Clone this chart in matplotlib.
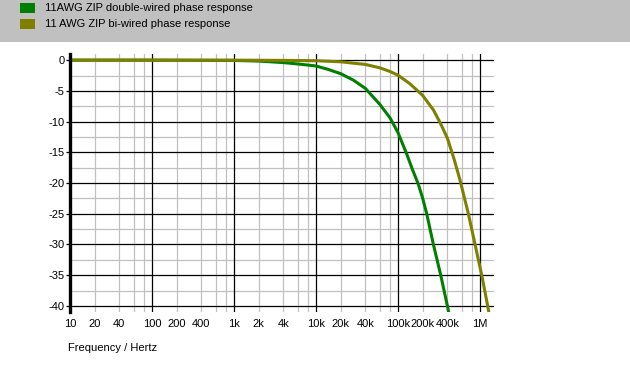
import numpy as np
import matplotlib
matplotlib.use("Agg")
import matplotlib.pyplot as plt
from matplotlib.patches import Rectangle
from matplotlib.ticker import FixedLocator, NullFormatter

plt.rcParams["font.family"] = ["Liberation Sans", "DejaVu Sans"]

# phase response (Hz, degrees)
freq_double = [10, 100, 1000, 2000, 4000, 6300, 10000, 14000, 20000, 28500,
               40000, 60000, 80000, 100000, 127000, 150000, 177000, 200000,
               224000, 270000, 332000, 400000, 415000]
phase_double = [0, 0, -0.05, -0.15, -0.4, -0.65, -0.95, -1.5, -2.2, -3.25,
                -4.6, -7.2, -9.4, -11.8, -15.2, -17.8, -20.2, -22.5,
                -25.0, -30.0, -35.0, -40.0, -41.0]

freq_bi = [10, 1000, 5000, 10000, 20000, 40000, 60000, 80000, 100000, 140000,
           200000, 270000, 330000, 400000, 480000, 570000, 721000, 870000,
           1050000, 1240000, 1280000]
phase_bi = [0, 0, -0.05, -0.1, -0.27, -0.7, -1.25, -1.85, -2.45, -3.85,
            -5.75, -8.1, -10.3, -12.7, -16.0, -19.5, -25.0, -30.0,
            -35.0, -40.0, -41.0]

label_double = "11AWG ZIP double-wired phase response"
label_bi = "11 AWG ZIP bi-wired phase response"
col_double = "#008000"
col_bi = "#808000"

xtick_vals = [10, 20, 40, 100, 200, 400, 1e3, 2e3, 4e3, 1e4, 2e4, 4e4,
              1e5, 2e5, 4e5, 1e6]
xtick_labels = ["10", "20", "40", "100", "200", "400", "1k", "2k", "4k",
                "10k", "20k", "40k", "100k", "200k", "400k", "1M"]
ytick_vals = [0, -5, -10, -15, -20, -25, -30, -35, -40]

W, H = 630, 365
fig = plt.figure(figsize=(W / 100, H / 100), dpi=100)

# grey header with legend
fig.patches.append(Rectangle((0, 1 - 42 / H), 1, 42 / H, transform=fig.transFigure,
                             facecolor="#c0c0c0", edgecolor="none", zorder=0))
for i, (lab, col) in enumerate([(label_double, col_double), (label_bi, col_bi)]):
    yc = 8 + i * 16
    fig.patches.append(Rectangle((20 / W, 1 - (yc + 5) / H), 15 / W, 10 / H,
                                 transform=fig.transFigure, facecolor=col,
                                 edgecolor="none", zorder=1))
    fig.text(45 / W, 1 - yc / H, lab, fontsize=8, va="center", ha="left")

ax = fig.add_axes([70 / W, 1 - 312 / H, 424 / W, 258 / H])
ax.set_xscale("log")
ax.set_xlim(10, 10 ** (6 + 14 / 82))
ax.set_ylim(-41, 1)

minor_x = [m * 10 ** d for d in range(1, 7) for m in (2, 4, 6, 8)]
for x in minor_x:
    ax.axvline(x, color="#c0c0c0", lw=0.9, zorder=1)
for d in range(1, 7):
    ax.axvline(10 ** d, color="black", lw=0.9, zorder=2)
for y in np.arange(-37.5, 0, 5):
    ax.axhline(y, color="#c0c0c0", lw=0.9, zorder=1)
for y in ytick_vals:
    ax.axhline(y, color="black", lw=0.9, zorder=2)

ax.plot(freq_double, phase_double, color=col_double, lw=2.2, zorder=4)
ax.plot(freq_bi, phase_bi, color=col_bi, lw=2.2, zorder=4)

for s in ["top", "right", "bottom"]:
    ax.spines[s].set_visible(False)
ax.spines["left"].set_linewidth(2.4)
ax.spines["left"].set_zorder(5)

ax.xaxis.set_major_locator(FixedLocator(xtick_vals))
ax.set_xticklabels(xtick_labels)
ax.xaxis.set_minor_formatter(NullFormatter())
ax.tick_params(axis="x", which="both", length=0, pad=5, labelsize=8)
ax.set_yticks(ytick_vals)
ax.set_yticklabels([str(v) for v in ytick_vals])
ax.tick_params(axis="y", length=3, width=0.9, pad=1, labelsize=8)

fig.text(68 / W, 1 - 348 / H, "Frequency / Hertz", fontsize=8, va="center", ha="left")

fig.savefig("out.png", dpi=100)
